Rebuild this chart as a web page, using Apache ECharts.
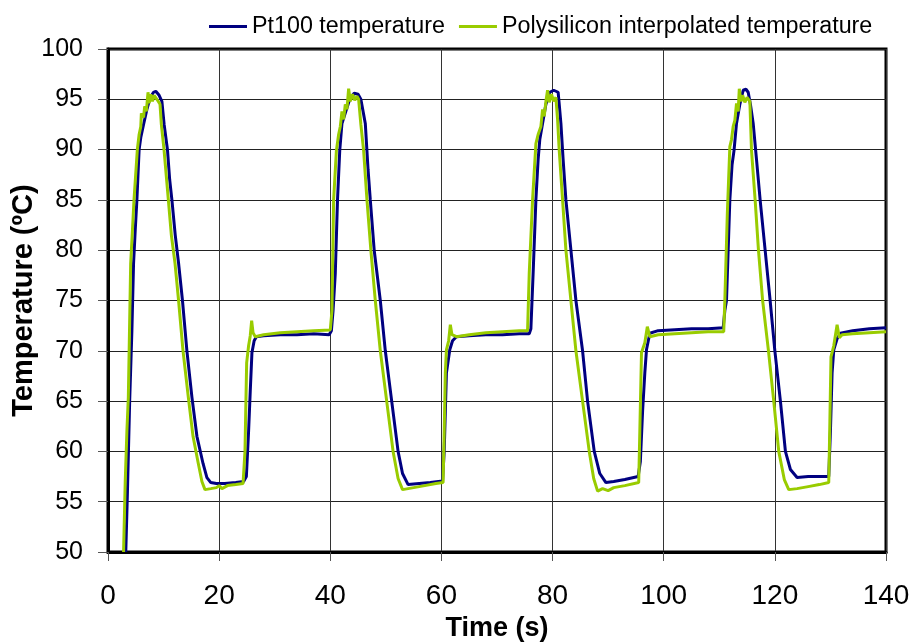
<!DOCTYPE html>
<html>
<head>
<meta charset="utf-8">
<script src="https://cdn.jsdelivr.net/npm/echarts@6/dist/echarts.min.js"></script>
<style>
  html, body { margin: 0; padding: 0; background: #fff; }
  #chart { width: 911px; height: 642px; }
</style>
</head>
<body>
<div id="chart"></div>
<script>
// series names / axis texts
var seriesNames = ["Pt100 temperature", "Polysilicon interpolated temperature"];
var xTitle = "Time (s)";
var yTitle = "Temperature (ºC)";

// Pt100 reference sensor, [time s, temperature ºC]
var pt100 = [
  [3.2,50],[3.5,56],[3.9,65],[4.3,72],[4.6,78.7],[4.9,82],[5.2,85],[5.6,90],[5.9,91.2],[6.4,92.5],
  [7.0,94.0],[7.6,95.2],[8.2,95.7],[8.6,95.8],[9.2,95.4],[9.7,94.8],[10.1,92.5],[10.7,90],[11.1,87],
  [11.5,85],[12.1,81.5],[12.7,78.7],[13.4,75],[14.2,70],[15.1,65.4],[16.0,61.5],[17.1,58.8],[17.8,57.4],
  [18.5,56.9],[19.5,56.8],[21,56.8],[23,56.9],[24.4,57.0],[24.9,57.5],[25.3,62],[25.6,66],[25.9,69.8],
  [26.3,71.0],[26.7,71.4],[28,71.5],[31,71.6],[34,71.6],[37,71.7],[39.8,71.6],
  [40.2,72.0],[40.5,74],[40.9,77.7],[41.3,85],[41.7,89.9],[42.1,92.6],[42.8,93.8],[43.5,95.0],[44.3,95.6],
  [45.0,95.5],[45.5,95.0],[46.0,93.5],[46.3,92.6],[46.8,88],[47.2,85],[47.9,80],[49.0,75],[49.9,70],
  [51.05,65],[52.2,60],[53.0,57.8],[54.0,56.7],[56,56.8],[58,56.9],[60.2,57.05],[60.5,60],[60.9,67.8],
  [61.5,70.1],[62.0,71.0],[62.7,71.4],[65,71.5],[68,71.6],[71,71.6],[74,71.7],[75.8,71.7],
  [76.1,72.2],[76.5,77.7],[77.0,85],[77.4,89],[77.7,91],[78.2,92.6],[78.8,94.5],[79.5,95.7],[80.2,95.9],
  [81.0,95.7],[81.2,94.5],[81.5,92.6],[81.9,89],[82.4,85],[83.3,80],[84.2,75],[85.4,70],[86.3,65],
  [87.5,60],[88.5,57.8],[89.6,56.9],[91,57.0],[93,57.2],[95.4,57.5],[95.8,59],[96.2,64],[96.6,67.8],
  [96.9,70.1],[97.5,71.75],[99,72.0],[102,72.1],[105,72.2],[108,72.2],[110.7,72.3],
  [111.0,74],[111.3,75],[111.9,85],[112.3,88.5],[112.65,89.9],[113.1,92.6],[113.7,94.5],[114.3,95.9],
  [114.8,96.0],[115.2,95.7],[115.6,94.5],[116.1,92.6],[116.7,89],[117.35,85],[118.25,80],[119.15,75],
  [120.0,70],[121.0,65],[121.9,60],[122.8,58.2],[124.0,57.4],[126,57.5],[128,57.5],[129.7,57.5],
  [130.0,62],[130.3,67.8],[130.6,70.1],[131.2,71.2],[131.8,71.75],[134,72.0],[137,72.2],[140,72.3]
];

// polysilicon sensor, interpolated temperature
var polySi = [
  [2.8,50],[3.1,57],[3.4,62],[3.66,65.4],[4.08,78.7],[4.4,82],[4.68,85],[5.28,90],[5.6,91.5],[5.9,92.3],
  [6.0,93.6],[6.4,93.2],[6.6,94.3],[6.9,93.8],[7.2,95.7],[7.4,94.6],[7.7,95.5],[8.0,94.8],[8.3,95.4],
  [8.8,95.0],[9.36,94.5],[9.6,92.5],[10.08,90],[10.86,85],[11.4,81.5],[12.06,78.7],[12.7,75],[13.5,70],
  [14.45,65.4],[15.3,61.5],[16.25,58.8],[16.9,57],[17.45,56.2],[18.5,56.3],[19.5,56.4],[20,56.6],
  [20.5,56.3],[21.5,56.6],[23,56.7],[24.3,56.8],[24.65,60],[24.95,68.8],[25.3,70.5],[25.6,71.5],
  [25.85,73.0],[26.1,71.8],[26.5,71.4],[28,71.6],[31,71.8],[34,71.9],[37,72.0],[40.0,72.07],
  [40.3,74],[40.4,77.7],[40.6,85],[41.1,89.9],[41.5,91.5],[41.8,92.3],[42.1,93.8],[42.4,93.0],[42.7,94.5],
  [43.0,94.0],[43.3,96.05],[43.6,94.8],[44.0,95.5],[44.4,94.9],[44.8,95.3],[45.1,95.0],[45.5,92.5],
  [46.0,89.9],[46.6,85],[47.3,80],[48.1,75],[49.0,70],[50.15,65],[51.3,60],[52.2,57.3],[53.0,56.2],
  [55,56.4],[57,56.6],[59,56.8],[60.3,56.9],[60.5,62],[60.7,67.8],[60.9,70.1],[61.3,71.0],[61.6,72.6],
  [61.9,71.6],[62.7,71.4],[65,71.6],[68,71.8],[71,71.9],[74,72.0],[75.5,72.0],
  [75.8,77.7],[76.4,85],[77.0,90.6],[77.4,91.5],[77.9,92.3],[78.2,94.0],[78.5,93.3],[78.8,94.8],
  [79.1,95.9],[79.4,94.7],[79.8,95.5],[80.2,94.8],[80.6,95.2],[80.9,93.0],[81.2,89.9],[81.8,85],
  [82.4,80],[83.3,75],[84.2,70],[85.4,65],[86.6,60],[87.4,57.3],[88.1,56.05],[89,56.3],[90,56.1],
  [91,56.4],[93,56.6],[95.5,56.9],[95.7,62],[96.0,69.8],[96.6,70.8],[97.05,72.4],[97.5,71.4],[99,71.6],
  [102,71.7],[105,71.8],[108,71.9],[110.8,71.9],
  [111.0,75],[111.45,83.7],[111.9,90.3],[112.2,91.0],[112.5,92.3],[112.8,92.9],[113.1,94.6],[113.4,93.8],
  [113.6,96.05],[113.9,94.8],[114.2,95.4],[114.6,94.7],[115.0,95.2],[115.5,94.8],[115.8,89.9],
  [116.45,85],[117.05,80],[117.8,75],[118.85,70],[119.8,65],[120.7,60],[121.7,57.2],[122.5,56.2],
  [124,56.3],[126,56.5],[128,56.7],[129.7,56.9],[129.9,63],[130.1,69.4],[130.6,70.5],[131.2,72.6],
  [131.6,71.3],[132.1,71.6],[134,71.7],[137,71.8],[140,71.9]
];

var FONT = "'Liberation Sans', Arial, sans-serif";

var chart = echarts.init(document.getElementById("chart"), null, { renderer: "canvas" });

chart.setOption({
  backgroundColor: "#fff",
  animation: false,
  textStyle: { fontFamily: FONT, color: "#000" },
  legend: {
    left: 204,
    top: 10,
    itemWidth: 38,
    itemHeight: 3,
    itemGap: 14,
    icon: "rect",
    textStyle: { fontSize: 23.3, color: "#000", fontFamily: FONT },
    data: seriesNames
  },
  grid: {
    left: 108,
    right: 25,
    top: 49,
    bottom: 90,
    outerBoundsMode: "none",
    show: true,
    borderColor: "#000",
    borderWidth: 3
  },
  xAxis: {
    type: "value",
    min: 0,
    max: 140,
    interval: 20,
    name: xTitle,
    nameLocation: "middle",
    nameGap: 63,
    nameMoveOverlap: false,
    nameTextStyle: { fontSize: 27, fontWeight: "bold", color: "#000", fontFamily: FONT },
    axisLine: { show: true, onZero: false, lineStyle: { color: "#000", width: 3 } },
    axisTick: { show: true, length: 9, lineStyle: { color: "#555", width: 1 } },
    axisLabel: { fontSize: 28, margin: 30, color: "#000", fontFamily: FONT },
    splitLine: { show: true, lineStyle: { color: "#333", width: 1 } }
  },
  yAxis: {
    type: "value",
    min: 50,
    max: 100,
    interval: 5,
    name: yTitle,
    nameLocation: "middle",
    nameRotate: 90,
    nameGap: 70,
    nameMoveOverlap: false,
    nameTextStyle: { fontSize: 29, fontWeight: "bold", color: "#000", fontFamily: FONT },
    axisLine: { show: true, onZero: false, lineStyle: { color: "#000", width: 3 } },
    axisTick: { show: true, length: 10, lineStyle: { color: "#555", width: 1 } },
    axisLabel: { fontSize: 25, margin: 25, color: "#000", fontFamily: FONT },
    splitLine: { show: true, lineStyle: { color: "#222", width: 1 } }
  },
  series: [
    {
      name: seriesNames[0],
      type: "line",
      data: pt100,
      showSymbol: false,
      symbol: "none",
      color: "#000080",
      lineStyle: { color: "#000080", width: 3 },
      z: 3
    },
    {
      name: seriesNames[1],
      type: "line",
      data: polySi,
      showSymbol: false,
      symbol: "none",
      color: "#99CC00",
      lineStyle: { color: "#99CC00", width: 3 },
      z: 4
    }
  ]
});
</script>
</body>
</html>
